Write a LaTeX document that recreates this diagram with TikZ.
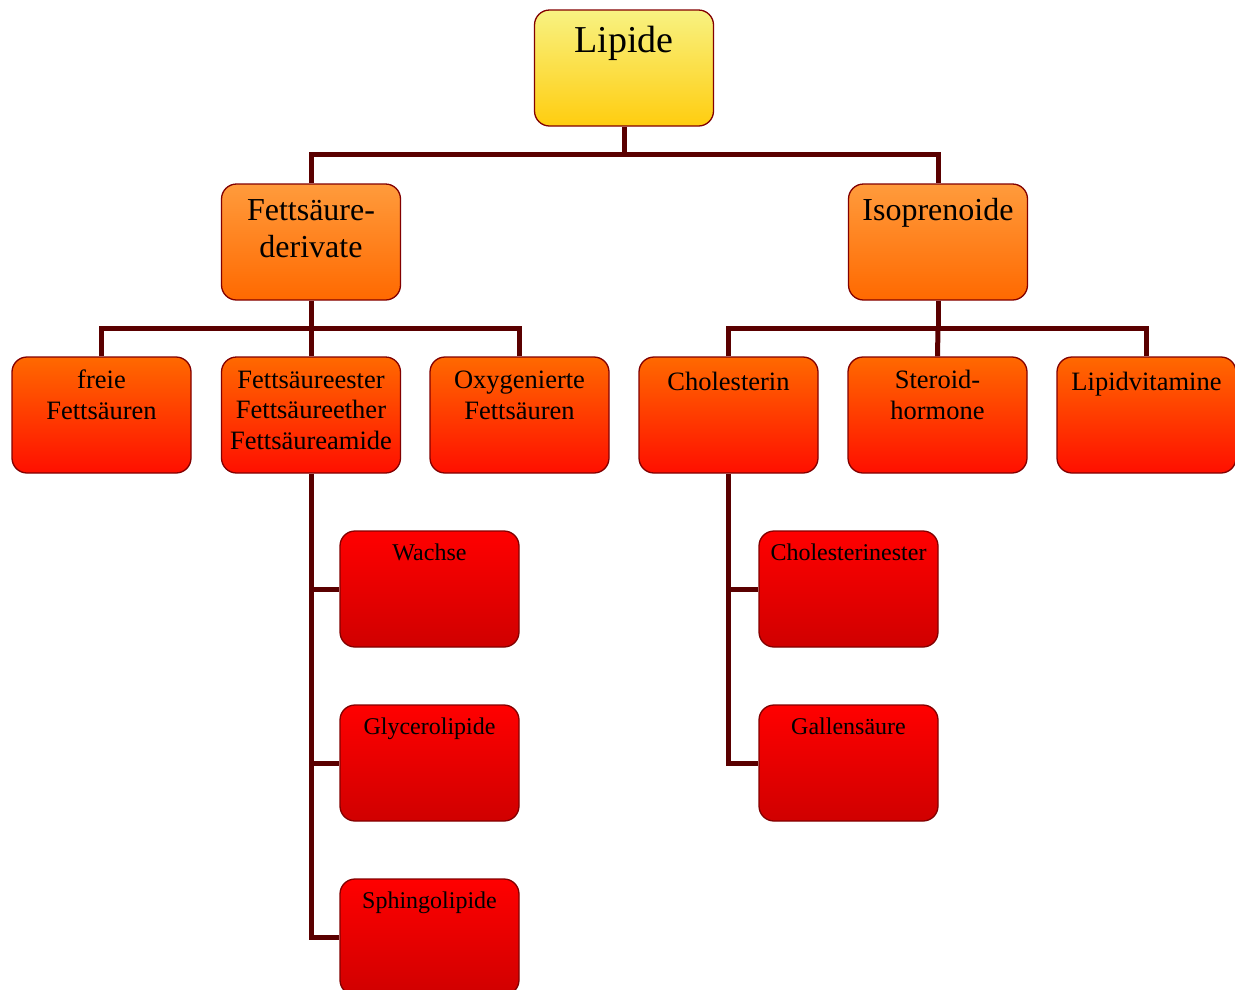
\documentclass[tikz,border=0pt]{standalone}
\usepackage{fontspec}
\setmainfont{Liberation Serif}
\usetikzlibrary{backgrounds}
\definecolor{lnk}{RGB}{90,0,0}
\definecolor{brd}{RGB}{130,0,0}
\definecolor{yA}{RGB}{248,242,130}
\definecolor{yB}{RGB}{255,205,15}
\definecolor{oA}{RGB}{255,155,60}
\definecolor{oB}{RGB}{255,105,0}
\definecolor{rA}{RGB}{255,105,0}
\definecolor{rB}{RGB}{255,15,0}
\definecolor{dA}{RGB}{255,0,0}
\definecolor{dB}{RGB}{208,0,0}
% #1 font size, #2 line spacing, #3 baseline offset from top, #4 text
\newcommand{\bt}[4]{\parbox[c][116pt][t]{179pt}{\centering\fontsize{#1}{#2}\selectfont\rule{0pt}{#3pt}#4\par}}
\tikzset{
  box/.style={draw=brd, line width=1.3pt, rounded corners=15pt, inner sep=0pt, minimum width=179pt, minimum height=116pt},
  lvA/.style={box, top color=yA, bottom color=yB},
  lvB/.style={box, top color=oA, bottom color=oB},
  lvC/.style={box, top color=rA, bottom color=rB},
  lvD/.style={box, top color=dA, bottom color=dB},
  conn/.style={draw=lnk, line width=5pt}
}
\begin{document}
\begin{tikzpicture}[x=1pt,y=-1pt]
\useasboundingbox (0,0) rectangle (1235,989);
\clip (0,0) rectangle (1235,989);
\coordinate (b1) at (624,154);
\coordinate (b2) at (311,328);
\coordinate (b3) at (938,328);
\node[lvA] (lip) at (624,68) {\bt{38}{44}{42}{Lipide}};
\node[lvB] (fd) at (311,242) {\bt{32}{37}{36}{Fettsäure-\\derivate}};
\node[lvB] (iso) at (938,242) {\bt{32}{37}{36}{Isoprenoide}};
\node[lvC] (c1) at (101.5,415) {\bt{26.5}{31}{31}{freie\\Fettsäuren}};
\node[lvC] (c2) at (311,415) {\bt{26.5}{30.5}{31}{Fettsäureester\\Fettsäureether\\Fettsäureamide}};
\node[lvC] (c3) at (519.5,415) {\bt{26.5}{31}{31}{Oxygenierte\\Fettsäuren}};
\node[lvC] (c4) at (728.5,415) {\bt{26.5}{31}{33}{Cholesterin}};
\node[lvC] (c5) at (937.5,415) {\bt{26.5}{31}{31}{Steroid-\\hormone}};
\node[lvC] (c6) at (1146.5,415) {\bt{26.5}{31}{33}{Lipidvitamine}};
\node[lvD] (w1) at (429.5,589) {\bt{24}{28}{29}{Wachse}};
\node[lvD] (w2) at (429.5,763) {\bt{24}{28}{29}{Glycerolipide}};
\node[lvD] (w3) at (429.5,937) {\bt{24}{28}{29}{Sphingolipide}};
\node[lvD] (h1) at (848.5,589) {\bt{24}{28}{29}{Cholesterinester}};
\node[lvD] (h2) at (848.5,763) {\bt{24}{28}{29}{Gallensäure}};
\begin{pgfonlayer}{background}
\draw[conn] (lip.south) -- (b1);
\draw[conn] (fd.north) |- (b1) -| (iso.north);
\draw[conn] (fd.south) -- (b2);
\draw[conn] (c1.north) |- (b2) -| (c3.north);
\draw[conn] (c2.north) -- (b2);
\draw[conn] (iso.south) -- (b3);
\draw[conn] (c4.north) |- (b3) -| (c6.north);
\draw[conn] (c5.north) -- (b3);
\draw[conn] (c2.south) |- (w3.west);
\draw[conn] (w1.west -| c2.south) -- (w1.west);
\draw[conn] (w2.west -| c2.south) -- (w2.west);
\draw[conn] (c4.south) |- (h2.west);
\draw[conn] (h1.west -| c4.south) -- (h1.west);
\end{pgfonlayer}
\end{tikzpicture}
\end{document}
